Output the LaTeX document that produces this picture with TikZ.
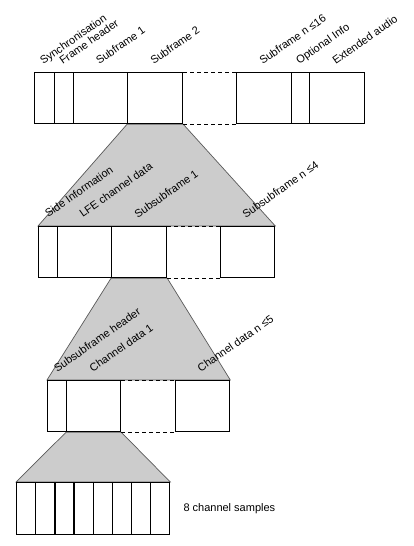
\documentclass[tikz,border=0pt]{standalone}
\usepackage{fontspec}
\setmainfont{Liberation Sans}
\usetikzlibrary{calc, backgrounds}

\tikzset{
	cell/.style={draw, line width=1.3pt, rectangle, anchor=north west, inner sep=0pt, minimum height=51pt},
	gap/.style={line width=0.9pt, dash pattern=on 4pt off 3pt},
	funnel/.style={fill=gray!40, draw=black!65, line width=0.7pt},
	lbl/.style={rotate=35, anchor=base west, inner sep=0pt, font=\fontsize{11}{13}\selectfont},
}

\begin{document}
\begin{tikzpicture}[x=1pt, y=-1pt]
	\useasboundingbox (0,0) rectangle (413,546);
	% frame
	\node[cell, minimum width=20pt] (sync) at (34,72) {};
	\node[cell, minimum width=19pt] (fhead) at (54,72) {};
	\node[cell, minimum width=54pt] (sub1) at (73,72) {};
	\node[cell, minimum width=55pt] (sub2) at (127,72) {};
	\node[cell, minimum width=55pt] (subn) at (236,72) {};
	\node[cell, minimum width=18pt] (opt) at (291,72) {};
	\node[cell, minimum width=55pt] (ext) at (309,72) {};
	\draw[gap] (sub2.north east) -- (subn.north west);
	\draw[gap] (sub2.south east) -- (subn.south west);
	\node[lbl] at ($(sync.north)+(-1.5,-7)$) {Synchronisation};
	\node[lbl] at ($(fhead.north)+(-1.5,-7)$) {Frame header};
	\node[lbl] at ($(sub1.north)+(-1.5,-7)$) {Subframe 1};
	\node[lbl] at ($(sub2.north)+(-1.5,-7)$) {Subframe 2};
	\node[lbl] at ($(subn.north)+(-1.5,-7)$) {Subframe n ≤16};
	\node[lbl] at ($(opt.north)+(-1.5,-7)$) {Optional Info};
	\node[lbl] at ($(ext.north)+(-1.5,-7)$) {Extended audio};
	% subframe
	\node[cell, minimum width=19pt] (side) at (38,226) {};
	\node[cell, minimum width=54pt] (lfe) at (57,226) {};
	\node[cell, minimum width=55pt] (ssub1) at (111,226) {};
	\node[cell, minimum width=54pt] (ssubn) at (220,226) {};
	\draw[gap] (ssub1.north east) -- (ssubn.north west);
	\draw[gap] (ssub1.south east) -- (ssubn.south west);
	% subsubframe
	\node[cell, minimum width=19pt] (shead) at (47,380) {};
	\node[cell, minimum width=54pt] (ch1) at (66,380) {};
	\node[cell, minimum width=54pt] (chn) at (175,380) {};
	\draw[gap] (ch1.north east) -- (chn.north west);
	\draw[gap] (ch1.south east) -- (chn.south west);
	% samples
	\foreach \i in {1,...,8}
		\node[cell, minimum width=19.125pt, minimum height=52pt] (smp\i) at ({16+(\i-1)*19.125},482) {};
	\node[anchor=west, inner sep=0pt, font=\fontsize{11}{13}\selectfont] (smplbl) at ($(smp8.east)+(13,0)$) {8 channel samples};
	\begin{scope}[on background layer]
		\draw[funnel] (sub2.south west) -- (sub2.south east) -- (ssubn.north east) -- (side.north west) -- cycle;
		\draw[funnel] (ssub1.south west) -- (ssub1.south east) -- (chn.north east) -- (shead.north west) -- cycle;
		\draw[funnel] (ch1.south west) -- (ch1.south east) -- (smp8.north east) -- (smp1.north west) -- cycle;
	\end{scope}
	\node[lbl] at ($(side.north)+(0,-8)$) {Side Information};
	\node[lbl] at ($(lfe.north)+(-2,-8)$) {LFE channel data};
	\node[lbl] at ($(ssub1.north)+(-1.5,-7.5)$) {Subsubframe 1};
	\node[lbl] at ($(ssubn.north)+(-2,-7.5)$) {Subsubframe n ≤4};
	\node[lbl] at ($(shead.north)+(0,-7.5)$) {Subsubframe header};
	\node[lbl] at ($(ch1.north)+(-1,-7.5)$) {Channel data 1};
	\node[lbl] at ($(chn.north)+(-2,-7.5)$) {Channel data n ≤5};
\end{tikzpicture}
\end{document}
